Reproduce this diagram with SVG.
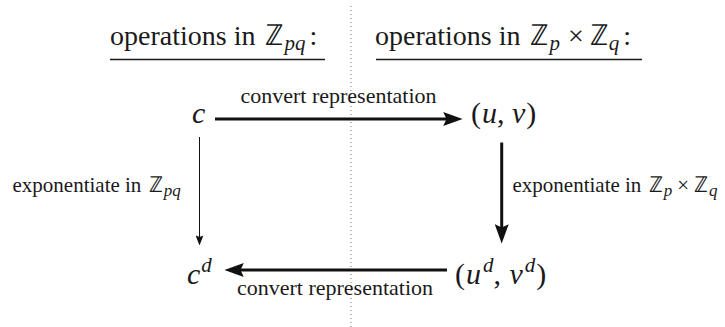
<svg xmlns="http://www.w3.org/2000/svg" width="725" height="327" viewBox="0 0 725 327">
<style>
  text { font-family: "Liberation Serif", "DejaVu Serif", serif; fill: #1a1a1a; }
  .title { font-size: 28px; }
  .lbl { font-size: 21px; }
  .conv { font-size: 22px; }
  .math { font-size: 30px; }
  .it { font-style: italic; }
  .bb { font-family: "DejaVu Sans", sans-serif; font-weight: 200; }
  .uline { stroke: #1a1a1a; stroke-width: 1.5; }
  .thick { stroke: #111; stroke-width: 3; fill: none; }
  .thin { stroke: #111; stroke-width: 1; fill: none; }
  .divider { stroke: #777; stroke-width: 1; stroke-dasharray: 1 3; }
</style>
<defs>
  <marker id="headThick" markerUnits="userSpaceOnUse" markerWidth="20" markerHeight="14" viewBox="0 0 18 13" refX="10" refY="6.5" orient="auto">
    <path d="M0,0 L18,6.5 L0,13 L3,6.5 z" fill="#111"/>
  </marker>
  <marker id="headThin" markerUnits="userSpaceOnUse" markerWidth="10" markerHeight="8" viewBox="0 0 9 7" refX="5" refY="3.5" orient="auto">
    <path d="M0,0 L9,3.5 L0,7 L1.5,3.5 z" fill="#111"/>
  </marker>
</defs>

<line id="divider" class="divider" x1="351" y1="6" x2="351" y2="327"/>

<g id="title-left">
  <text class="title" x="110" y="45">operations in <tspan class="bb" font-size="29" dx="3">ℤ</tspan><tspan class="it" font-size="21" dx="1" dy="5">pq</tspan><tspan dx="4" dy="-5">:</tspan></text>
  <line class="uline" x1="110" y1="59.5" x2="325" y2="59.5"/>
</g>

<g id="title-right">
  <text class="title" x="375" y="45">operations in <tspan class="bb" font-size="29" dx="3">ℤ</tspan><tspan class="it" font-size="21" dx="1" dy="5">p</tspan><tspan dx="8" dy="-5">×</tspan><tspan class="bb" font-size="29" dx="6">ℤ</tspan><tspan class="it" font-size="21" dx="1" dy="5">q</tspan><tspan dx="4" dy="-5">:</tspan></text>
  <line class="uline" x1="376" y1="59.5" x2="642" y2="59.5"/>
</g>

<g id="node-c">
  <text class="math it" x="192" y="123">c</text>
</g>

<g id="node-uv">
  <text class="math" x="471" y="123">(<tspan class="it" dx="1">u</tspan>, <tspan class="it">v</tspan><tspan dx="1">)</tspan></text>
</g>

<g id="node-cd">
  <text class="math" x="187" y="284"><tspan class="it">c</tspan><tspan class="it" font-size="21" dx="1" dy="-12">d</tspan></text>
</g>

<g id="node-udvd">
  <text class="math" x="455" y="284">(<tspan class="it" dx="1">u</tspan><tspan class="it" font-size="21" dx="2" dy="-12">d</tspan><tspan dy="12">, </tspan><tspan class="it" dx="1">v</tspan><tspan class="it" font-size="21" dx="2" dy="-12">d</tspan><tspan dx="1" dy="12">)</tspan></text>
</g>

<g id="connectors">
  <line class="thick" x1="215" y1="119" x2="454" y2="119" marker-end="url(#headThick)"/>
  <text class="conv" x="338.5" y="103" text-anchor="middle">convert representation</text>

  <line class="thin" x1="199.5" y1="137" x2="199.5" y2="241" marker-end="url(#headThin)"/>
  <text class="lbl" x="12.5" y="192">exponentiate in <tspan class="bb" font-size="22" dx="2">ℤ</tspan><tspan class="it" font-size="17" dx="1" dy="4">pq</tspan></text>

  <line class="thick" x1="501.7" y1="142.5" x2="501.7" y2="235" marker-end="url(#headThick)"/>
  <text class="lbl" x="512.5" y="192">exponentiate in <tspan class="bb" font-size="22" dx="2">ℤ</tspan><tspan class="it" font-size="17" dx="1" dy="4">p</tspan><tspan dx="5" dy="-4">×</tspan><tspan class="bb" font-size="22" dx="5">ℤ</tspan><tspan class="it" font-size="17" dx="1" dy="4">q</tspan></text>

  <line class="thick" x1="447" y1="270" x2="233" y2="270" marker-end="url(#headThick)"/>
  <text class="conv" x="335" y="295" text-anchor="middle">convert representation</text>
</g>
</svg>
